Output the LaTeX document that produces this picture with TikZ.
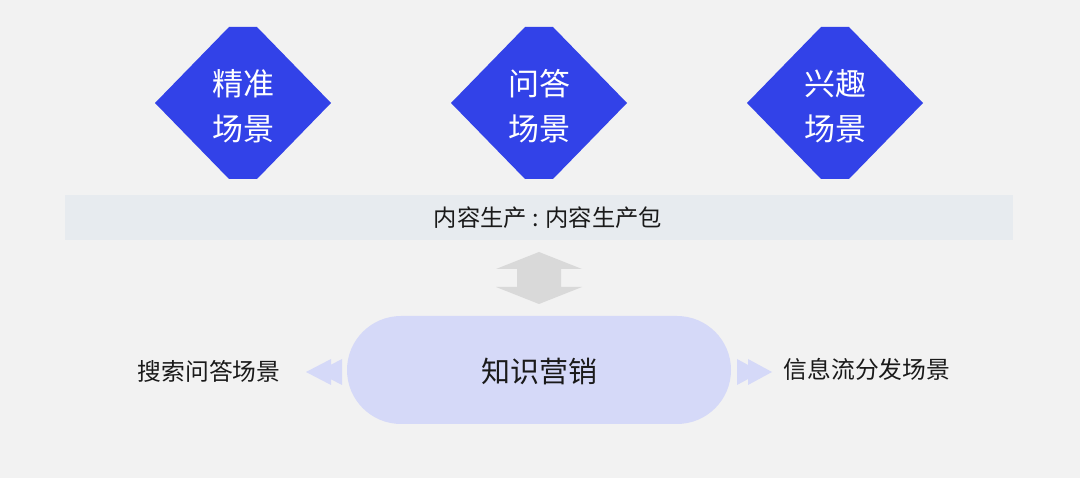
\documentclass[tikz,border=0pt]{standalone}
\usepackage{fontspec}
\setmainfont{Noto Sans CJK SC}
\newfontfamily\cjk{Noto Sans CJK SC}
\definecolor{bg}{HTML}{F2F2F2}
\definecolor{dblue}{HTML}{3242E8}
\definecolor{band}{HTML}{E7EBEF}
\definecolor{lav}{HTML}{D5D9F8}
\definecolor{garrow}{HTML}{D9D9D9}
\definecolor{txt}{HTML}{1A1A1A}
\begin{document}
\begin{tikzpicture}[x=1pt,y=-1pt,
  dtext/.style={text=white,font=\cjk\fontsize{31}{45}\selectfont,align=center,inner sep=0pt},
  lbl/.style={text=txt,font=\cjk\fontsize{23.8}{28}\selectfont,inner sep=0pt}]
\fill[bg] (0,0) rectangle (1080,478);
\useasboundingbox (0,0) rectangle (1080,478);
% truncated diamonds
\foreach \cx/\nm/\ta/\tb in {243/d1/精准/场景, 539/d2/问答/场景, 835/d3/兴趣/场景}{
  \fill[dblue] (\cx-88,103) -- (\cx-14,27) -- (\cx+14,27) -- (\cx+88,103) -- (\cx+14,179) -- (\cx-14,179) -- cycle;
  \node[dtext] (\nm) at (\cx,106) {\ta\\\tb};
}
% band
\fill[band] (65,195) rectangle (1013,240);
\node[lbl,font=\cjk\fontsize{23.3}{28}\selectfont] (band) at (548,218) {内容生产 : 内容生产包};
% double arrow
\fill[garrow] (539,252) -- (582,269) -- (561,269) -- (561,287) -- (582,287) -- (539,304) -- (496,287) -- (517,287) -- (517,269) -- (496,269) -- cycle;
% rounded rect
\fill[lav,rounded corners=54pt] (347,316) rectangle (731,424);
\node[lbl,font=\cjk\fontsize{29}{34}\selectfont] (zs) at (539,372) {知识营销};
% left triangles
\fill[lav] (317,372) -- (342,359) -- (342,385) -- cycle;
\fill[lav] (306,372) -- (331,359) -- (331,385) -- cycle;
% right triangles
\fill[lav] (761,372) -- (737,359) -- (737,385) -- cycle;
\fill[lav] (772,372) -- (748,359) -- (748,385) -- cycle;
\node[lbl] (l) at (209,371) {搜索问答场景};
\node[lbl] (r) at (867,369) {信息流分发场景};
\end{tikzpicture}
\end{document}
